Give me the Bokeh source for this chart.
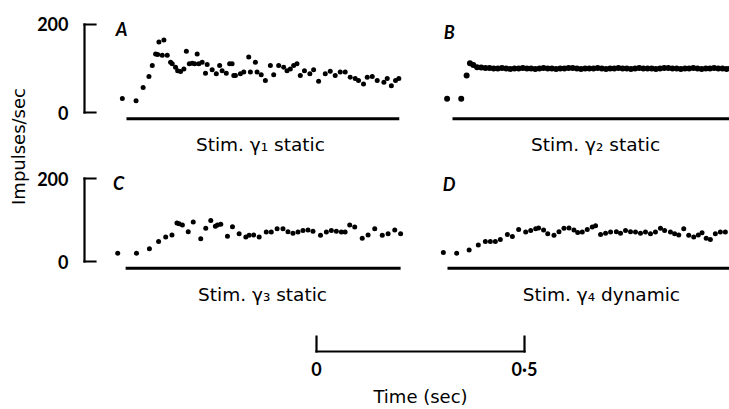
import math
from bokeh.plotting import figure
from bokeh.models import Range1d, LinearAxis, FixedTicker, Label, ColumnDataSource
from bokeh.layouts import row, column
from bokeh.embed import file_html
from bokeh.resources import INLINE
from bokeh.core.properties import value

# ---------------- data (time in s from stimulus onset, impulses/sec) ----------------
a_t = [-0.010, 0.023, 0.040, 0.054, 0.062, 0.070, 0.075, 0.078, 0.086, 0.090,
       0.098, 0.106, 0.110, 0.118, 0.123, 0.130, 0.138, 0.144, 0.151, 0.158,
       0.164, 0.170, 0.174, 0.182, 0.190, 0.194, 0.206, 0.216, 0.224, 0.230,
       0.240, 0.248, 0.254, 0.258, 0.262, 0.274, 0.282, 0.294, 0.298, 0.310,
       0.314, 0.324, 0.334, 0.346, 0.354, 0.366, 0.378, 0.386, 0.394, 0.402,
       0.410, 0.418, 0.428, 0.441, 0.450, 0.462, 0.478, 0.490, 0.502, 0.514,
       0.526, 0.538, 0.550, 0.558, 0.570, 0.579, 0.591, 0.603, 0.619, 0.627,
       0.637, 0.647, 0.655]
a_v = [32, 27, 57, 82, 107, 133, 132, 160, 130, 165,
       130, 114, 111, 103, 95, 93, 99, 139, 111, 112,
       111, 133, 111, 114, 89, 109, 97, 88, 107, 95,
       89, 111, 111, 84, 84, 88, 92, 126, 92, 114,
       92, 86, 73, 107, 86, 107, 103, 95, 99, 107,
       111, 84, 95, 88, 97, 71, 88, 94, 84, 92,
       92, 80, 77, 73, 65, 80, 82, 73, 69, 77,
       61, 73, 77]

b_t = [-0.013, 0.021, 0.034, 0.042, 0.050, 0.059,
       0.069, 0.079, 0.089, 0.099, 0.109, 0.119, 0.129, 0.139, 0.149, 0.159,
       0.169, 0.179, 0.189, 0.199, 0.209, 0.219, 0.229, 0.239, 0.249, 0.259,
       0.269, 0.279, 0.289, 0.299, 0.309, 0.319, 0.329, 0.339, 0.349, 0.359,
       0.369, 0.379, 0.389, 0.399, 0.409, 0.419, 0.429, 0.439, 0.449, 0.459,
       0.469, 0.479, 0.489, 0.499, 0.509, 0.519, 0.529, 0.539, 0.549, 0.559,
       0.569, 0.579, 0.589, 0.599, 0.609, 0.619, 0.629, 0.639, 0.649, 0.659,
       0.669]
b_v = [31, 31, 84, 112, 108, 103,
       102, 101, 101, 100, 100, 101, 100, 99, 100, 100,
       101, 100, 100, 99, 100, 101, 100, 100, 99, 100,
       100, 101, 101, 100, 99, 100, 100, 100, 101, 100,
       99, 100, 100, 101, 100, 100, 99, 100, 101, 100,
       100, 100, 99, 100, 101, 101, 100, 100, 99, 100,
       100, 101, 100, 99, 100, 100, 101, 100, 100, 99,
       100]

c_t = [-0.019, 0.026, 0.057, 0.079, 0.096, 0.111, 0.123, 0.128, 0.136, 0.150,
       0.162, 0.180, 0.192, 0.204, 0.215, 0.220, 0.228, 0.244, 0.256, 0.272,
       0.288, 0.296, 0.307, 0.320, 0.337, 0.349, 0.363, 0.377, 0.389, 0.401,
       0.413, 0.425, 0.437, 0.449, 0.467, 0.481, 0.493, 0.505, 0.517, 0.526,
       0.537, 0.549, 0.567, 0.581, 0.597, 0.615, 0.629, 0.645, 0.659]
c_v = [20, 20, 31, 48, 59, 64, 93, 91, 88, 72,
       95, 55, 80, 99, 85, 88, 90, 61, 84, 67,
       59, 63, 64, 59, 71, 71, 79, 79, 72, 68,
       71, 75, 76, 73, 63, 71, 75, 73, 71, 71,
       88, 83, 56, 64, 79, 63, 67, 76, 67]

d_t = [-0.010, 0.022, 0.052, 0.074, 0.091, 0.103, 0.115, 0.127, 0.144, 0.156,
       0.171, 0.188, 0.200, 0.212, 0.219, 0.231, 0.241, 0.256, 0.268, 0.280,
       0.292, 0.304, 0.313, 0.324, 0.336, 0.348, 0.356, 0.368, 0.380, 0.392,
       0.406, 0.416, 0.428, 0.440, 0.452, 0.464, 0.476, 0.488, 0.500, 0.512,
       0.522, 0.536, 0.546, 0.556, 0.568, 0.580, 0.592, 0.603, 0.612, 0.622,
       0.632, 0.644, 0.656, 0.668]
d_v = [22, 20, 28, 40, 48, 48, 48, 53, 65, 60,
       77, 71, 75, 79, 81, 76, 67, 63, 72, 80,
       81, 76, 70, 71, 77, 83, 86, 65, 68, 71,
       72, 68, 75, 72, 71, 68, 71, 67, 71, 80,
       75, 71, 67, 64, 79, 63, 59, 64, 69, 56,
       53, 67, 71, 71]

panel_letters = ["A", "B", "C", "D"]
stim_labels = ["Stim. γ₁ static", "Stim. γ₂ static", "Stim. γ₃ static", "Stim. γ₄ dynamic"]
stim_start = [0.0, 0.0, 0.0, 0.0]
stim_end = [0.656, 0.70, 0.659, 0.70]
y_ticks = [0, 200]
scale_ticks = [0, 0.5]
scale_tick_labels = ["0", "0·5"]
x_title = "Time (sec)"
y_title = "Impulses/sec"

# ---------------- styling / layout ----------------
NUM_FONT = "Lato"
TXT_FONT = "DejaVu Sans"
INK = "black"
TOP_H, BOT_H, SCALE_H = 158, 147, 104

panel_cfg = [
    dict(w=375, axis=True,  xr=(-0.101, 0.671), yr=(-104.5, 254.5), sy=-14, lx=0.322, ly=-72.7, kx=-0.012, ky=189, ms=5),
    dict(w=324, axis=False, xr=(-0.113, 0.666), yr=(-104.5, 254.5), sy=-14, lx=0.344, ly=-72.7, kx=-0.008, ky=184, ms=6),
    dict(w=375, axis=True,  xr=(-0.0986, 0.6707), yr=(-106.0, 248.2), sy=-16, lx=0.328, ly=-79.5, kx=-0.017, ky=188, ms=5),
    dict(w=324, axis=False, xr=(-0.101, 0.678), yr=(-106.0, 248.2), sy=-16, lx=0.370, ly=-79.5, kx=0.004, ky=187, ms=5),
]
heights = [TOP_H, TOP_H, BOT_H, BOT_H]
series = [(a_t, a_v), (b_t, b_v), (c_t, c_v), (d_t, d_v)]


def base_fig(w, h, xr, yr, left=0, bottom=0):
    p = figure(width=w, height=h, x_range=Range1d(*xr), y_range=Range1d(*yr),
               x_axis_type=None, y_axis_type=None, toolbar_location=None,
               output_backend="svg", min_border_left=left, min_border_right=0,
               min_border_top=0, min_border_bottom=bottom)
    p.outline_line_color = None
    p.background_fill_color = "white"
    p.border_fill_color = "white"
    return p


panels = []
for i, cfg in enumerate(panel_cfg):
    p = base_fig(cfg["w"], heights[i], cfg["xr"], cfg["yr"], left=54 if cfg["axis"] else 0)
    if cfg["axis"]:
        ax = LinearAxis(ticker=FixedTicker(ticks=y_ticks), bounds=(y_ticks[0], y_ticks[-1]))
        ax.major_tick_in = 11
        ax.major_tick_out = 0
        ax.minor_tick_in = 0
        ax.minor_tick_out = 0
        ax.major_label_standoff = 16
        ax.axis_line_width = 2.2
        ax.axis_line_cap = "square"
        ax.major_tick_line_width = 2.2
        ax.major_tick_line_cap = "square"
        ax.axis_line_color = INK
        ax.major_tick_line_color = INK
        ax.major_label_text_font = NUM_FONT
        ax.major_label_text_font_style = "bold"
        ax.major_label_text_font_size = "18px"
        ax.major_label_text_color = INK
        p.add_layout(ax, "left")
    t, v = series[i]
    # stimulus bar
    p.segment(x0=[stim_start[i]], y0=[cfg["sy"]], x1=[stim_end[i]], y1=[cfg["sy"]],
              line_width=3, line_color=INK)
    # instantaneous frequency points
    src = ColumnDataSource(dict(t=t, v=v))
    p.scatter(x="t", y="v", source=src, size=cfg["ms"], color=INK, line_width=0)
    # stimulus label
    p.text(x=[cfg["lx"]], y=[cfg["ly"]], text=[stim_labels[i]],
           text_font=value(TXT_FONT), text_font_size=value("18.5px"),
           text_align="center", text_baseline="alphabetic", text_color=INK)
    # panel letter
    p.text(x=[cfg["kx"]], y=[cfg["ky"]], text=[panel_letters[i]],
           text_font=value(NUM_FONT), text_font_size=value("18px"), text_font_style="bold italic",
           text_align="center", text_baseline="middle", text_color=INK)
    panels.append(p)

# y title column
pl = base_fig(30, TOP_H + BOT_H, (0, 30), (0, TOP_H + BOT_H))
pl.add_layout(Label(x=18, y=TOP_H + BOT_H - 146, text=y_title, angle=math.pi / 2,
                    text_align="center", text_baseline="middle", text_font=TXT_FONT,
                    text_font_size="18px", text_color=INK))

# time scale bar as an axis (frame centred on the bar so the title sits under it)
pb = base_fig(729, SCALE_H, (-0.4928, 0.9928), (0, 1), left=111, bottom=58)
sax = LinearAxis(ticker=FixedTicker(ticks=scale_ticks), bounds=(scale_ticks[0], scale_ticks[-1]),
                 major_label_overrides=dict(zip(scale_ticks, scale_tick_labels)),
                 axis_label=x_title)
sax.major_tick_in = 15
sax.major_tick_out = 0
sax.minor_tick_in = 0
sax.minor_tick_out = 0
sax.axis_line_width = 2.2
sax.axis_line_cap = "square"
sax.major_tick_line_width = 2.2
sax.major_tick_line_cap = "square"
sax.axis_line_color = INK
sax.major_tick_line_color = INK
sax.major_label_standoff = 6
sax.major_label_text_font = NUM_FONT
sax.major_label_text_font_style = "bold"
sax.major_label_text_font_size = "18px"
sax.major_label_text_color = INK
sax.axis_label_standoff = 3
sax.axis_label_text_font = TXT_FONT
sax.axis_label_text_font_style = "normal"
sax.axis_label_text_font_size = "18px"
sax.axis_label_text_color = INK
pb.add_layout(sax, "below")

grid = column(row(panels[0], panels[1]), row(panels[2], panels[3]))
layout = column(row(pl, grid), pb)

open("out.html", "w").write(file_html(layout, INLINE))
